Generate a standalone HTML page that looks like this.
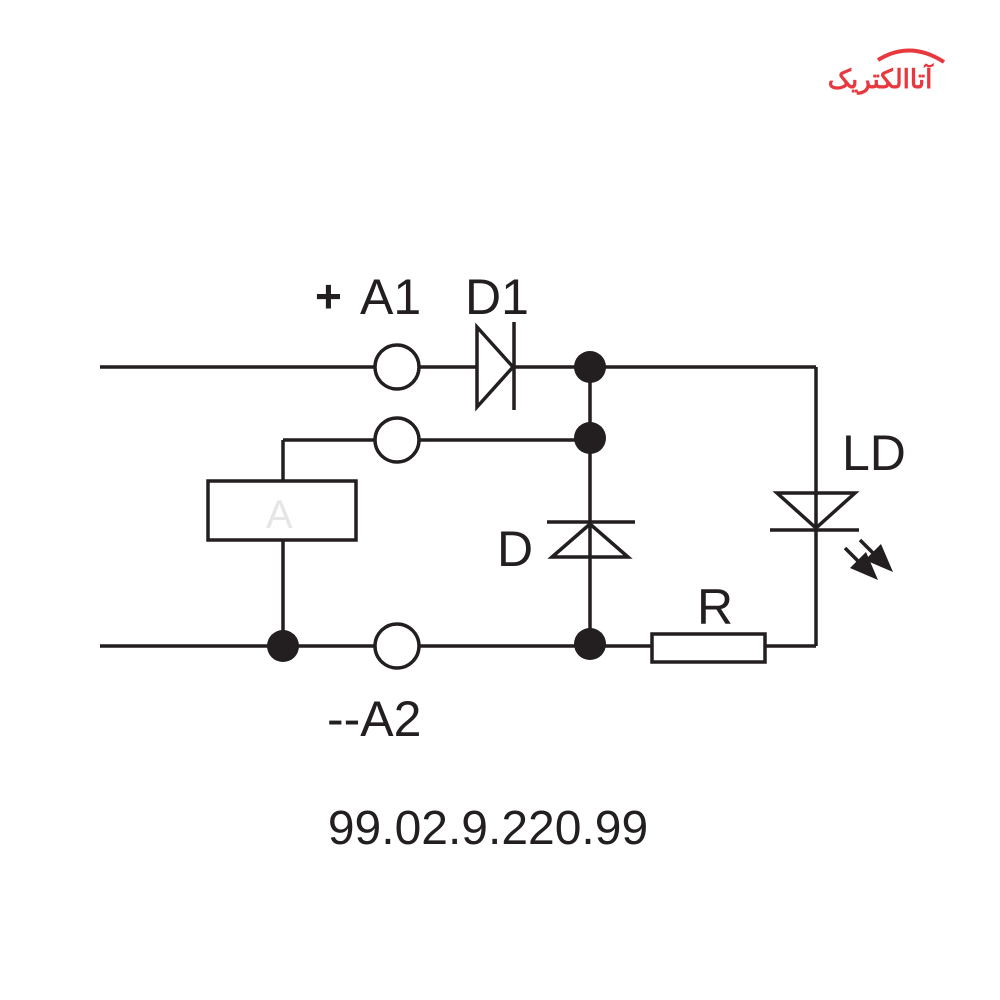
<!DOCTYPE html>
<html><head><meta charset="utf-8"><style>body{margin:0;background:#fff}svg{display:block}</style></head>
<body>
<svg width="1000" height="1000" viewBox="0 0 1000 1000" xmlns="http://www.w3.org/2000/svg">
<rect width="1000" height="1000" fill="#fff"/>
<g stroke="#231f20" stroke-width="3.5" fill="none">
<line x1="100" y1="367" x2="375" y2="367"/>
<line x1="420" y1="367" x2="477" y2="367"/>
<line x1="514" y1="367" x2="816" y2="367"/>
<polygon points="477,327 477,407 513,367"/>
<line x1="514" y1="322" x2="514" y2="410"/>
<line x1="283" y1="440" x2="375" y2="440"/>
<line x1="420" y1="440" x2="590" y2="440"/>
<line x1="283" y1="440" x2="283" y2="481"/>
<rect x="208" y="481" width="148" height="59"/>
<line x1="283" y1="540" x2="283" y2="646"/>
<line x1="100" y1="646" x2="375" y2="646"/>
<line x1="420" y1="646" x2="652" y2="646"/>
<rect x="652" y="634" width="113" height="28"/>
<line x1="765" y1="646" x2="816" y2="646"/>
<line x1="590" y1="367" x2="590" y2="646"/>
<line x1="547" y1="522" x2="635" y2="522"/>
<polygon points="590,524 552,557 628,557"/>
<line x1="816" y1="367" x2="816" y2="646"/>
<polygon points="777,493 855,493 816,528"/>
<line x1="770" y1="530" x2="859" y2="530"/>
<line x1="845" y1="548" x2="864" y2="567"/>
<line x1="860" y1="540" x2="879" y2="559"/>
</g>
<polygon points="878,580 850,568 866,552" fill="#231f20"/>
<polygon points="893,572 865,560 881,544" fill="#231f20"/>
<g fill="#fff" stroke="#231f20" stroke-width="3.5">
<circle cx="397" cy="367" r="22"/>
<circle cx="397" cy="440" r="22"/>
<circle cx="397" cy="646" r="22"/>
</g>
<g fill="#231f20">
<circle cx="590" cy="367" r="16"/>
<circle cx="590" cy="438" r="16"/>
<circle cx="590" cy="644" r="16"/>
<circle cx="283" cy="646" r="16"/>
</g>
<g font-family="Liberation Sans, sans-serif" fill="#231f20" font-size="50">
<text x="315" y="312" font-weight="bold" font-size="46">+</text>
<text x="360" y="314">A1</text>
<text x="465" y="314">D1</text>
<text x="842" y="470">LD</text>
<text x="497" y="566">D</text>
<text x="697" y="624">R</text>
<text x="327" y="736">--A2</text>
</g>
<text x="488" y="844" text-anchor="middle" font-family="Liberation Sans, sans-serif" font-size="48" fill="#231f20">99.02.9.220.99</text>
<text x="266" y="528" font-family="Liberation Sans, sans-serif" font-size="40" fill="#e6e6e6">A</text>
<path d="M878 60 Q910 40 944 62" stroke="#e8383d" stroke-width="4" fill="none"/>
<text x="880" y="88" text-anchor="middle" font-family="Liberation Sans, Noto Sans CJK SC, sans-serif" font-weight="bold" font-size="26" fill="#e8383d">آتاالکتریک</text>
</svg>
</body></html>
